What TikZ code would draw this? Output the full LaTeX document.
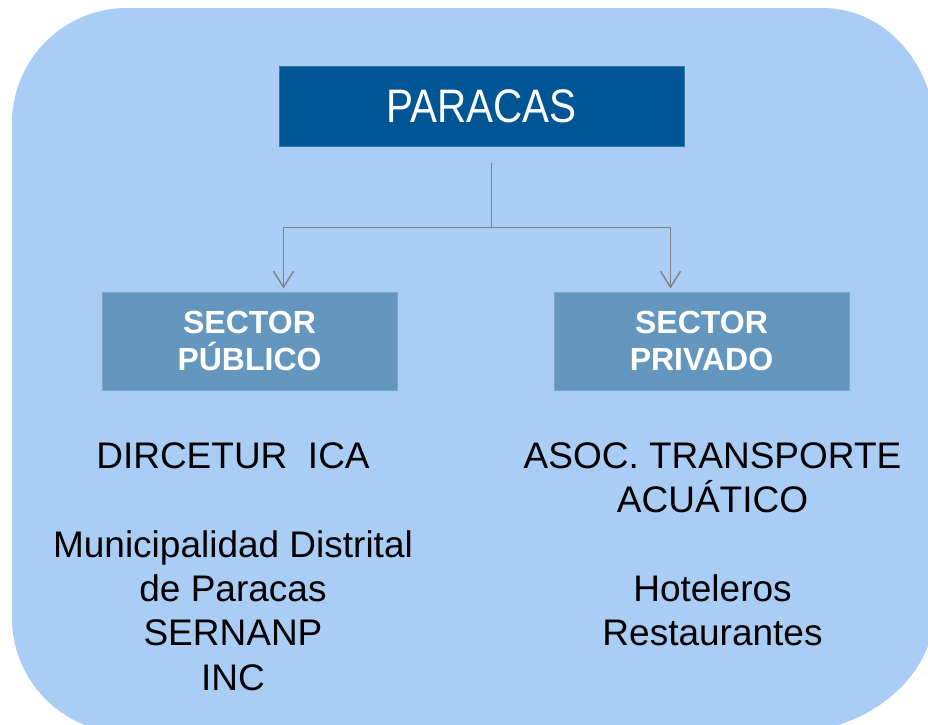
\documentclass[tikz,border=0pt]{standalone}
\usepackage{fontspec}
\setmainfont{Liberation Sans}
\usetikzlibrary{arrows.meta}
\definecolor{fondo}{RGB}{170,205,245}
\definecolor{azulosc}{RGB}{0,85,148}
\definecolor{azulmed}{RGB}{100,150,190}
\definecolor{linea}{RGB}{128,128,128}

\begin{document}
\begin{tikzpicture}[x=1pt,y=-1pt,
    titulo/.style={fill=azulosc, draw=azulosc!80!white, line width=1pt,
        minimum width=405pt, minimum height=80pt, inner sep=0pt,
        text=white, font=\fontsize{47}{50}\selectfont},
    sector/.style={fill=azulmed, draw=azulmed!85!white, line width=1pt,
        minimum width=295pt, minimum height=98pt, inner sep=0pt,
        text=white, align=center, font=\fontsize{32}{37.5}\selectfont\bfseries},
    lista/.style={align=center, inner sep=0pt, anchor=north,
        font=\fontsize{37}{44.3}\selectfont},
    enlace/.style={draw=linea, line width=1.4pt},
    flecha/.style={enlace, -{Straight Barb[length=16pt,width=20pt]}}]

        \useasboundingbox (0,0) rectangle (928,724);

        % fondo redondeado
        \fill[fondo] (127,8) -- (823,8)
            arc[start angle=-90, end angle=0, x radius=112, y radius=125]
            -- (935,608)
            arc[start angle=0, end angle=90, x radius=150, y radius=125]
            -- (127,733)
            arc[start angle=90, end angle=180, radius=115]
            -- (12,123)
            arc[start angle=180, end angle=270, radius=115] -- cycle;

        \node[titulo] (paracas) at (481.5,106)
            {\raisebox{-2pt}{\scalebox{0.86}[1]{PARACAS}}};

        \node[sector] (publico) at (249.5,341) {SECTOR\\PÚBLICO};
        \node[sector] (privado) at (701.5,341) {SECTOR\\PRIVADO};

        \coordinate (baja) at ([xshift=10pt,yshift=-16pt]paracas.south);
        \coordinate (cruce) at ([yshift=-65pt]baja);
        \draw[enlace] (baja) -- (cruce);
        \draw[flecha] (cruce) -| ([xshift=34pt,yshift=3pt]publico.north);
        \draw[flecha] (cruce) -| ([xshift=-31pt,yshift=3pt]privado.north);

        \node[lista] (publicos) at (233,442.5)
            {DIRCETUR~~ICA\\[44.3pt]Municipalidad Distrital\\de Paracas\\SERNANP\\INC};
        \node[lista] (privados) at (712.5,442.5)
            {ASOC. TRANSPORTE\\ACUÁTICO\\[44.3pt]Hoteleros\\Restaurantes};

\end{tikzpicture}
\end{document}
